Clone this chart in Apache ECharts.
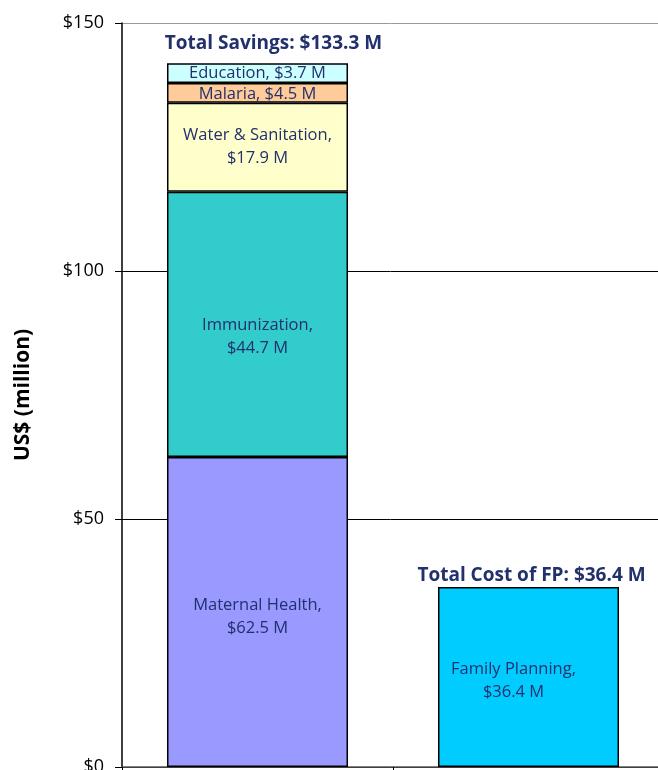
<!DOCTYPE html>
<html><head><meta charset="utf-8">
<script src="https://cdn.jsdelivr.net/npm/echarts@6/dist/echarts.min.js"></script>
<style>html,body{margin:0;padding:0;background:#fff}#c{width:658px;height:770px}</style>
</head><body><div id="c"></div>
<script>
// Categories (two bars)
const categories = ['Savings', 'Cost of FP'];
// Savings components (bar heights as drawn in the picture)
const savingNames = ['Maternal Health', 'Immunization', 'Water & Sanitation', 'Malaria', 'Education'];
const savingHeights = [62.5, 53.5, 17.9, 4.0, 4.0];
const savingLabelValues = [62.5, 44.7, 17.9, 4.5, 3.7];
const savingColors = ['#9999FF', '#33CCCC', '#FFFFCC', '#FFCC99', '#CCFFFF'];
const twoLine = [true, true, true, false, false];
// Family planning cost
const fpName = 'Family Planning';
const fpHeight = 36.3;
const fpLabelValue = 36.4;
// Totals
const totalTexts = ['Total Savings: $133.3 M', 'Total Cost of FP: $36.4 M'];
// Y axis ticks
const yTicks = [0, 50, 100, 150];

const txtColor = '#22306c';
const font = 'Open Sans';
const labelOffsets = [[0, 5], [0, 12], [0, 0], [0, 1], [0, 0]];

const series = savingNames.map((n, i) => ({
  name: n, type: 'bar', stack: 'a', barWidth: '66.8%',
  data: [savingHeights[i], '-'],
  itemStyle: { color: savingColors[i], borderColor: '#000', borderWidth: 1.5 },
  label: {
    show: true, position: 'inside', color: txtColor, fontFamily: font, fontSize: 16.5, lineHeight: 23,
    offset: labelOffsets[i],
    formatter: () => twoLine[i] ? n + ',\n$' + savingLabelValues[i].toFixed(1) + ' M' : n + ', $' + savingLabelValues[i].toFixed(1) + ' M'
  }
}));
series.push({
  name: fpName, type: 'bar', stack: 'a',
  data: ['-', fpHeight],
  itemStyle: { color: '#00CCFF', borderColor: '#000', borderWidth: 1.5 },
  label: { show: true, position: 'inside', color: txtColor, fontFamily: font, fontSize: 16.5, lineHeight: 23,
    offset: [-15, 4], formatter: () => fpName + ',\n$' + fpLabelValue.toFixed(1) + ' M' }
});
series.push({
  name: 'Total', type: 'bar', stack: 'a',
  data: [
    { value: 0, label: { offset: [16, 0], distance: 10 } },
    { value: 0, label: { offset: [3, 0], distance: 2 } }
  ],
  itemStyle: { color: 'rgba(0,0,0,0)', borderWidth: 0 },
  label: { show: true, position: 'top', color: txtColor, fontFamily: font, fontWeight: 'bold', fontSize: 19,
    formatter: p => totalTexts[p.dataIndex] }
});

const chart = echarts.init(document.getElementById('c'), null, { renderer: 'canvas' });
chart.setOption({
  animation: false,
  grid: { left: 122, right: -6, top: 23, bottom: 3, containLabel: false, outerBoundsMode: 'none' },
  xAxis: {
    type: 'category', data: categories,
    axisLine: { lineStyle: { color: '#555', width: 1.5 } },
    axisTick: { show: true, length: 4, lineStyle: { color: '#000' } },
    axisLabel: { show: false }
  },
  yAxis: {
    type: 'value', min: yTicks[0], max: yTicks[yTicks.length - 1], interval: 50,
    name: 'US$ (million)', nameLocation: 'middle', nameGap: 88, nameRotate: 90,
    nameTextStyle: { fontFamily: font, fontWeight: 'bold', fontSize: 21, color: '#000' },
    axisLine: { show: true, lineStyle: { color: '#000', width: 1.5 } },
    axisTick: { show: true, length: 7, lineStyle: { color: '#000' } },
    axisLabel: { fontFamily: font, fontSize: 18, color: '#000', margin: 18, formatter: v => '$' + v },
    splitLine: { show: true, lineStyle: { color: ['#000', '#000', '#000', '#999'], width: 1 } }
  },
  series
});
</script></body></html>
